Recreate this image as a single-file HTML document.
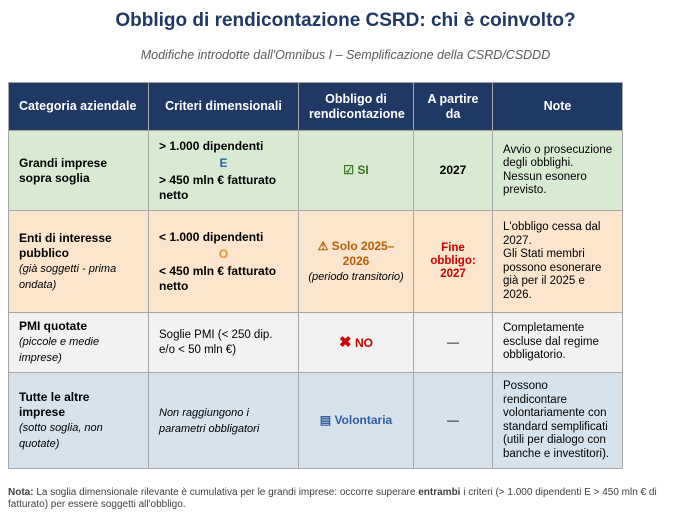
<!DOCTYPE html>
<html><head><meta charset="utf-8"><style>
body{margin:0;width:691px;height:520px;background:#fff;font-family:"Liberation Sans",Arial,sans-serif;position:relative;overflow:hidden}
.t{position:absolute;left:0;width:691px;text-align:center}
h1{position:absolute;top:10px;left:0;width:691px;text-align:center;margin:0;font-size:19px;color:#1f3864;font-weight:bold}
.sub{top:48px;font-size:12.5px;font-style:italic;color:#595959}
table{position:absolute;left:8px;top:82px;border-collapse:collapse;table-layout:fixed;width:614px}
td,th{border:1px solid #a6a6a6;font-size:12px;padding:0 10px;vertical-align:middle;line-height:15px;color:#000}
th{background:#1f3864;color:#fff;font-weight:bold;font-size:12.5px;text-align:center;height:47px;border-color:#a6a6a6}
th:first-child{text-align:left}
.g td{background:#d9ead3;height:79px}
.o td{background:#fce5cd;height:101px}
.w td{background:#f2f2f2;height:59px}
.b td{background:#d6e3ed;height:95px}
td.n{padding:0 4px 0 10px;font-size:11.5px;line-height:13.5px;white-space:nowrap}
td.m{padding:0 4px}
b{font-weight:bold}
i{font-size:11px}
.c{text-align:center}
.nt{position:absolute;left:8px;top:487px;width:680px;font-size:10px;line-height:12px;color:#404040}
</style></head><body>
<h1>Obbligo di rendicontazione CSRD: chi è coinvolto?</h1>
<div class="t sub">Modifiche introdotte dall'Omnibus I – Semplificazione della CSRD/CSDDD</div>
<table>
<colgroup><col style="width:140px"><col style="width:150px"><col style="width:115px"><col style="width:79px"><col style="width:130px"></colgroup>
<tr><th>Categoria aziendale</th><th>Criteri dimensionali</th><th>Obbligo di rendicontazione</th><th>A partire da</th><th>Note</th></tr>
<tr class="g"><td><b>Grandi imprese sopra soglia</b></td><td><b>&gt; 1.000 dipendenti</b><br><div class="c" style="color:#2e62b5;font-weight:bold;margin:2px 0">E</div><b>&gt; 450 mln € fatturato netto</b></td><td class="c m" style="color:#38761d;font-weight:bold">☑ SI</td><td class="c"><b>2027</b></td><td class="n">Avvio o prosecuzione<br>degli obblighi.<br>Nessun esonero<br>previsto.</td></tr>
<tr class="o"><td><b>Enti di interesse pubblico</b><br><i>(già soggetti - prima ondata)</i></td><td><b>&lt; 1.000 dipendenti</b><br><div class="c" style="color:#e69138;font-weight:bold;margin:2px 0">O</div><b>&lt; 450 mln € fatturato netto</b></td><td class="c m"><b style="color:#b45f06">⚠ Solo 2025–<br>2026</b><br><i>(periodo transitorio)</i></td><td class="c" style="color:#cc0000;font-weight:bold;font-size:11.5px;line-height:13px">Fine obbligo: 2027</td><td class="n">L'obbligo cessa dal<br>2027.<br>Gli Stati membri<br>possono esonerare<br>già per il 2025 e<br>2026.</td></tr>
<tr class="w"><td><b>PMI quotate</b><br><i>(piccole e medie imprese)</i></td><td style="font-size:11.5px">Soglie PMI (&lt; 250 dip. e/o &lt; 50 mln €)</td><td class="c m" style="color:#cc0000;font-weight:bold"><span style="font-size:15px">✖</span> NO</td><td class="c">—</td><td class="n">Completamente<br>escluse dal regime<br>obbligatorio.</td></tr>
<tr class="b"><td><b>Tutte le altre imprese</b><br><i>(sotto soglia, non quotate)</i></td><td><i>Non raggiungono i parametri obbligatori</i></td><td class="c m" style="color:#2e5fa0;font-weight:bold">▤ Volontaria</td><td class="c">—</td><td class="n">Possono<br>rendicontare<br>volontariamente con<br>standard semplificati<br>(utili per dialogo con<br>banche e investitori).</td></tr>
</table>
<div class="nt"><b>Nota:</b> La soglia dimensionale rilevante è cumulativa per le grandi imprese: occorre superare <b>entrambi</b> i criteri (&gt; 1.000 dipendenti E &gt; 450 mln € di fatturato) per essere soggetti all'obbligo.</div>
</body></html>
